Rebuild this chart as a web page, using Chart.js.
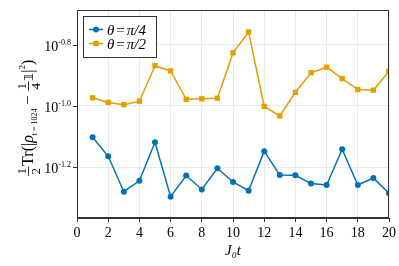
<!DOCTYPE html>
<html>
<head>
<meta charset="utf-8">
<script src="https://cdn.jsdelivr.net/npm/chart.js@4"></script>
<style>
  html, body { margin: 0; padding: 0; background: #fff; }
  canvas { display: block; }
</style>
</head>
<body>
<canvas id="c" width="399" height="266"></canvas>
<script>
// J0 t values and the two series (log scale)
const times = [1, 2, 3, 4, 5, 6, 7, 8, 9, 10, 11, 12, 13, 14, 15, 16, 17, 18, 19, 20];
const thetaQuarter = [0.0789, 0.0684, 0.0524, 0.0569, 0.0760, 0.0505, 0.0592, 0.0533, 0.0625, 0.0564,
                      0.0528, 0.0711, 0.0594, 0.0593, 0.0557, 0.0551, 0.0721, 0.0551, 0.0581, 0.0518];
const thetaHalf = [0.1062, 0.1026, 0.1009, 0.1035, 0.1352, 0.1300, 0.1050, 0.1054, 0.1059, 0.1489,
                   0.1742, 0.0995, 0.0927, 0.1107, 0.1282, 0.1337, 0.1227, 0.1130, 0.1125, 0.1297];
const yTickExps = ["-1.2", "-1.0", "-0.8"];
const yTickVals = [0.0631, 0.1, 0.1585];
const yMin = 0.0430, yMax = 0.2056;

const BLUE = "#0072b2", ORANGE = "#e69f00";
const SERIF = '"Liberation Serif", "DejaVu Serif", serif';
const FRAME = "#333";

// ── y tick labels (10 with small exponent), y title, legend, frame ──
const decor = {
  id: "decor",
  afterDraw(chart) {
    const ctx = chart.ctx, a = chart.chartArea, y = chart.scales.y;
    ctx.save();

    // frame
    ctx.strokeStyle = FRAME; ctx.lineWidth = 1;
    ctx.strokeRect(a.left + 0.5, a.top + 0.5, a.right - a.left - 1, a.bottom - a.top - 1);

    // y tick marks + labels
    ctx.fillStyle = "#000"; ctx.textBaseline = "alphabetic";
    yTickVals.forEach((v, i) => {
      const py = Math.round(y.getPixelForValue(v)) + 0.5;
      ctx.beginPath(); ctx.moveTo(a.left - 4, py); ctx.lineTo(a.left, py); ctx.stroke();
      ctx.font = `8px ${SERIF}`;
      const ew = ctx.measureText(yTickExps[i]).width;
      ctx.textAlign = "right";
      ctx.fillText(yTickExps[i], a.left - 6, py - 1);
      ctx.font = `14px ${SERIF}`;
      ctx.fillText("10", a.left - 6 - ew, py + 5);
    });

    // y axis title, rotated
    ctx.translate(33, 118);
    ctx.rotate(-Math.PI / 2);
    const parts = [
      { frac: ["1", "2"] },
      { t: "Tr(|", s: 16 },
      { t: "ρ", s: 16, it: true },
      { t: "t = 1024", s: 8, dy: 3.5 },
      { t: " − ", s: 16 },
      { frac: ["1", "4"] },
      { t: "𝟙", s: 13, font: '"DejaVu Sans", sans-serif' },
      { t: "|", s: 16 },
      { t: "2", s: 9, dy: -8 },
      { t: ")", s: 16 },
    ];
    const fontOf = p => `${p.it ? "italic " : ""}${p.s}px ${p.font || SERIF}`;
    const widthOf = p => {
      if (p.frac) { ctx.font = `13px ${SERIF}`; return ctx.measureText("1").width + 4; }
      ctx.font = fontOf(p); return ctx.measureText(p.t).width;
    };
    const total = parts.reduce((s, p) => s + widthOf(p), 0);
    let x = -total / 2;
    ctx.textAlign = "left";
    parts.forEach(p => {
      const w = widthOf(p);
      if (p.frac) {
        ctx.font = `13px ${SERIF}`;
        ctx.textAlign = "center";
        ctx.fillText(p.frac[0], x + w / 2, -7.5);
        ctx.fillText(p.frac[1], x + w / 2, 6.5);
        ctx.fillRect(x + 0.5, -5, w - 1, 0.8);
        ctx.textAlign = "left";
      } else {
        ctx.font = fontOf(p);
        ctx.fillText(p.t, x, p.dy || 0);
      }
      x += w;
    });
    ctx.setTransform(1, 0, 0, 1, 0, 0);

    // legend
    const lx = 83.5, ly = 16.5, lw = 73, lh = 41;
    ctx.fillStyle = "#fff"; ctx.fillRect(lx, ly, lw, lh);
    ctx.strokeStyle = FRAME; ctx.lineWidth = 1; ctx.strokeRect(lx, ly, lw, lh);
    const entries = [
      { c: BLUE, shape: "circle", label: "π/4", y: 29.5 },
      { c: ORANGE, shape: "rect", label: "π/2", y: 43.5 },
    ];
    entries.forEach(e => {
      ctx.strokeStyle = e.c; ctx.fillStyle = e.c; ctx.lineWidth = 1.5;
      ctx.beginPath(); ctx.moveTo(89, e.y); ctx.lineTo(103, e.y); ctx.stroke();
      ctx.beginPath();
      if (e.shape === "circle") ctx.arc(96, e.y, 3, 0, Math.PI * 2);
      else ctx.rect(93.3, e.y - 2.7, 5.4, 5.4);
      ctx.fill();
      ctx.fillStyle = "#000"; ctx.textAlign = "left";
      ctx.font = `italic 15px ${SERIF}`;
      ctx.fillText("θ", 107, e.y + 5);
      let tx = 107 + ctx.measureText("θ").width + 2;
      ctx.font = `15px ${SERIF}`;
      ctx.fillText("=", tx, e.y + 5);
      tx += ctx.measureText("=").width + 2;
      ctx.font = `italic 15px ${SERIF}`;
      ctx.fillText(e.label, tx, e.y + 5);
    });

    ctx.restore();
  },
};

new Chart(document.getElementById("c"), {
  type: "line",
  data: {
    labels: times,
    datasets: [
      { label: "θ = π/4", data: thetaQuarter, borderColor: BLUE, backgroundColor: BLUE,
        borderWidth: 1.5, pointStyle: "circle", pointRadius: 3, pointBorderWidth: 0, tension: 0 },
      { label: "θ = π/2", data: thetaHalf, borderColor: ORANGE, backgroundColor: ORANGE,
        borderWidth: 1.5, pointStyle: "rect", pointRadius: 3.8, pointBorderWidth: 0, tension: 0 },
    ],
  },
  options: {
    responsive: false, animation: false, devicePixelRatio: 1,
    layout: { padding: { left: 0, top: 10, right: 10, bottom: 0 } },
    plugins: { legend: { display: false }, tooltip: { enabled: false } },
    scales: {
      x: {
        type: "linear", min: 0, max: 20,
        afterBuildTicks: s => { s.ticks = [0, 2, 4, 6, 8, 10, 12, 14, 16, 18, 20].map(v => ({ value: v })); },
        afterFit: s => { s.height = 48; },
        ticks: { color: "#000", font: { family: SERIF, size: 14 }, padding: 3, maxRotation: 0 },
        grid: { color: "#ebebeb", tickColor: FRAME, tickLength: 4 },
        border: { color: FRAME, width: 1 },
        title: { display: true, text: "J₀t", color: "#000", padding: { top: 0, bottom: 6 },
                 font: { family: SERIF, size: 15, style: "italic" } },
      },
      y: {
        type: "logarithmic", min: yMin, max: yMax,
        afterBuildTicks: s => { s.ticks = yTickVals.map(v => ({ value: v })); },
        afterFit: s => { s.width = 77; },
        ticks: { display: false },
        grid: { color: "#ebebeb", drawTicks: false },
        border: { color: FRAME, width: 1 },
      },
    },
  },
  plugins: [decor],
});
</script>
</body>
</html>
